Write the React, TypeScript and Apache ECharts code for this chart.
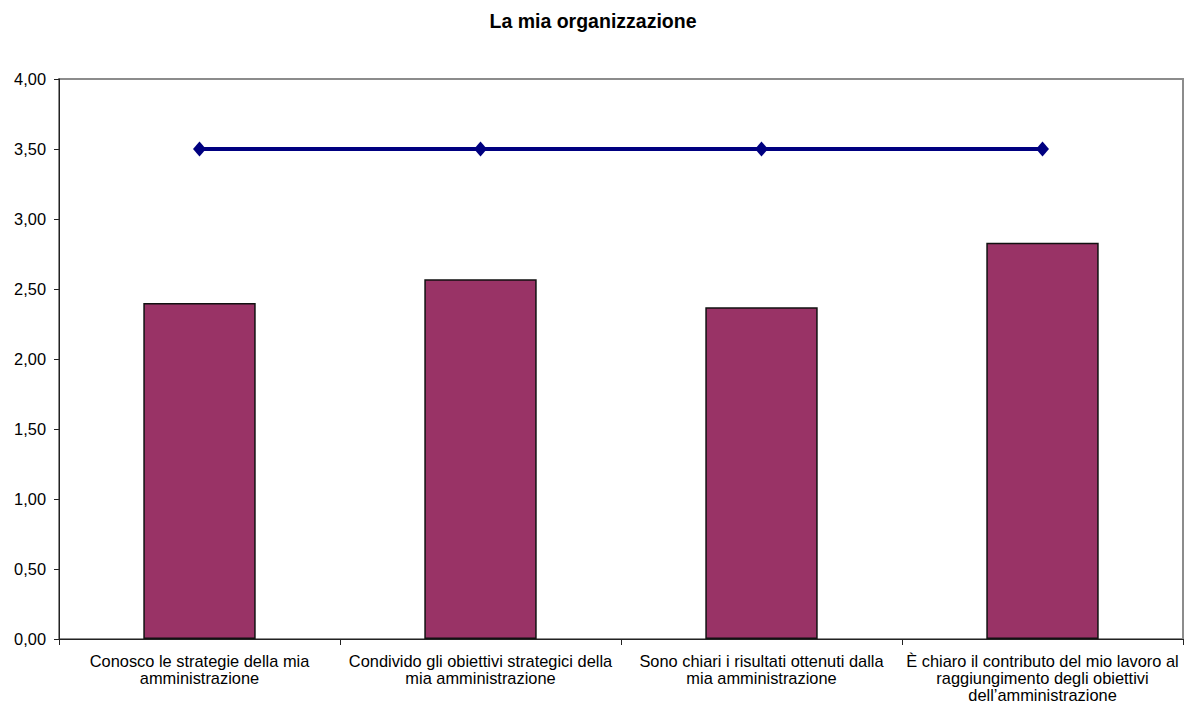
import React, { useEffect, useRef } from "react";
import * as echarts from "echarts";

const categories = [
  "Conosco le strategie della mia\namministrazione",
  "Condivido gli obiettivi strategici della\nmia amministrazione",
  "Sono chiari i risultati ottenuti dalla\nmia amministrazione",
  "È chiaro il contributo del mio lavoro al\nraggiungimento degli obiettivi\ndell’amministrazione",
];
const barValues = [2.4, 2.57, 2.37, 2.83];
const lineValues = [3.5, 3.5, 3.5, 3.5];
const titleText = "La mia organizzazione";

export default function App() {
  const ref = useRef<HTMLDivElement>(null);
  useEffect(() => {
    if (!ref.current) return;
    const chart = echarts.init(ref.current, null, { renderer: "svg" });
    const font = "'Liberation Sans', Arial, sans-serif";
    chart.setOption({
      animation: false,
      backgroundColor: "#ffffff",
      title: {
        text: titleText,
        left: "center",
        top: 6,
        textStyle: { fontFamily: font, fontSize: 19.5, fontWeight: "bold", color: "#000" },
      },
      grid: {
        left: 59,
        top: 79,
        right: 3,
        bottom: 73,
        show: true,
        borderColor: "#8c8c8c",
        borderWidth: 2,
        containLabel: false,
      },
      xAxis: {
        type: "category",
        data: categories,
        boundaryGap: true,
        axisLine: { show: true, lineStyle: { color: "#222", width: 1 } },
        axisTick: { show: true, length: 6, lineStyle: { color: "#222" } },
        axisLabel: {
          interval: 0,
          fontFamily: font,
          fontSize: 16.4,
          color: "#000",
          lineHeight: 17,
          margin: 13,
          align: "center",
        },
        splitLine: { show: false },
      },
      yAxis: {
        type: "value",
        min: 0,
        max: 4,
        interval: 0.5,
        axisLine: { show: true, lineStyle: { color: "#222", width: 1 } },
        axisTick: { show: true, length: 5, lineStyle: { color: "#222" } },
        axisLabel: {
          fontFamily: font,
          fontSize: 16.4,
          color: "#000",
          margin: 13,
          formatter: (v: number) => v.toFixed(2).replace(".", ","),
        },
        splitLine: { show: false },
      },
      series: [
        {
          type: "bar",
          data: barValues,
          barWidth: "40%",
          itemStyle: { color: "#993366", borderColor: "#111", borderWidth: 1.5 },
        },
        {
          type: "line",
          data: lineValues,
          symbol: "diamond",
          symbolSize: [13, 15],
          lineStyle: { color: "#000080", width: 4 },
          itemStyle: { color: "#000080" },
        },
      ],
    });
    return () => chart.dispose();
  }, []);
  return (
    <div
      ref={ref}
      style={{ position: "fixed", left: 0, top: 0, width: 1186, height: 712 }}
    />
  );
}
